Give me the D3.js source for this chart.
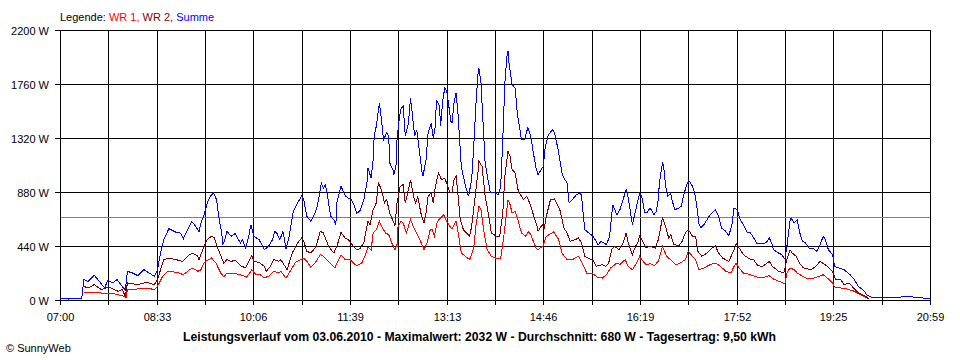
<!DOCTYPE html>
<html><head><meta charset="utf-8">
<script src="https://cdn.jsdelivr.net/npm/d3@7/dist/d3.min.js"></script>
<style>
body{margin:0;background:#fff}
svg{display:block}
text{font-family:"Liberation Sans",Arial,sans-serif;font-size:11px;fill:#000}
</style>
</head><body>
<svg id="chart" width="960" height="360"></svg>
<script>
// ---------- data ----------
const startMinute = 420;   // 07:00
const endMinute = 1259;    // 20:59
const xTickLabels = ["07:00","08:33","10:06","11:39","13:13","14:46","16:19","17:52","19:25","20:59"];
const yTickValues = [0, 440, 880, 1320, 1760, 2200];
const yTickLabels = ["0 W","440 W","880 W","1320 W","1760 W","2200 W"];
const averageW = 680;
const legendLabel = "Legende:";
const seriesNames = ["WR 1", "WR 2", "Summe"];
const titleText = "Leistungsverlauf vom 03.06.2010 - Maximalwert: 2032 W - Durchschnitt: 680 W - Tagesertrag: 9,50 kWh";
const footerText = "\u00A9 SunnyWeb";

// minutes after 07:00 and power in W
const sumT = [0,8,15,21,23,27,33,38,43,46,51,55,60,63,65,70,75,81,86,91,94,97,100,105,112,116,119,123,127,131,134,136,139,142,145,148,151,153,156,157,159,161,165,169,174,176,179,182,184,187,192,197,201,205,207,209,212,215,218,221,225,229,233,235,238,242,246,248,250,252,254,256,258,261,264,266,267,271,275,278,281,284,286,289,293,296,297,300,302,303,305,308,310,312,315,317,318,321,322,324,325,327,329,331,333,336,338,340,342,344,346,349,350,353,355,358,360,362,363,366,367,369,371,373,375,377,378,380,382,384,387,391,394,397,399,401,403,404,406,408,410,415,420,423,425,427,429,431,432,433,436,439,441,444,445,448,451,452,454,456,459,461,465,466,468,471,475,477,481,484,486,489,491,494,498,502,503,506,510,514,519,522,527,530,533,537,540,543,546,548,552,556,559,561,564,566,569,573,575,577,578,581,582,584,586,589,590,593,597,599,602,605,607,610,612,614,616,618,621,624,627,632,635,638,642,645,648,650,653,656,659,663,666,669,672,679,682,684,687,688,693,696,699,701,704,705,708,711,713,716,719,722,727,730,733,736,738,741,745,747,751,756,762,766,770,775,778,782,788,801,807,814,823,833,839];
const sumW = [10,8,12,15,166,152,201,152,98,160,139,166,111,79,234,220,198,247,220,193,247,383,492,581,551,546,500,573,641,600,554,627,695,790,845,872,818,682,546,451,492,560,519,541,464,492,424,519,614,519,492,410,437,492,560,546,492,560,416,519,722,790,845,818,682,641,709,763,845,953,913,940,845,682,655,614,790,926,850,831,818,763,709,722,818,953,1076,994,1143,1334,1415,1605,1469,1306,1361,1334,1116,1062,1021,1089,1306,1469,1564,1578,1334,1442,1646,1497,1334,1388,1252,1048,1008,1143,1361,1442,1320,1415,1632,1578,1415,1619,1727,1700,1578,1456,1442,1605,1687,1497,1089,926,845,980,1252,1578,1836,1890,1768,1442,1116,872,872,858,926,1306,1768,1985,2032,1931,1755,1727,1524,1361,1306,1306,1401,1388,1334,1225,1076,1021,1076,1089,1252,1347,1388,1361,1198,1035,994,953,790,818,858,872,845,573,546,519,451,478,451,519,777,695,736,818,899,831,614,763,872,845,709,709,750,695,722,818,953,1116,1103,926,845,872,818,736,750,763,872,953,967,926,872,777,627,587,614,655,695,736,682,587,560,524,614,750,736,655,614,546,546,505,464,456,478,505,451,410,383,369,334,437,641,668,627,655,560,478,464,424,416,397,451,519,492,410,369,274,261,247,206,166,111,79,43,24,22,22,16,30,24,16,14];

const wr2T = [23,27,33,40,44,49,56,60,63,65,75,84,91,94,97,100,105,112,118,125,128,133,134,139,142,146,149,152,156,158,161,165,169,174,179,182,185,187,192,197,199,203,206,211,213,219,224,229,233,235,238,242,247,251,254,259,264,267,271,275,278,283,286,289,293,295,297,299,302,305,307,310,313,315,318,322,323,325,328,331,333,336,338,341,343,345,348,351,353,355,358,360,362,365,368,371,374,376,378,380,382,384,386,389,392,395,397,400,403,404,407,410,413,416,421,424,427,429,432,434,436,439,442,447,450,453,457,460,461,465,467,469,473,477,482,486,489,492,497,500,503,506,511,514,517,523,526,529,532,535,539,543,546,548,552,555,557,559,561,565,569,574,577,581,584,587,589,592,597,600,603,606,610,613,615,619,624,629,632,635,639,645,650,652,655,659,666,669,672,677,680,684,687,693,698,701,704,706,710,713,717,724,729,733,740,745,748,753,756,761,766,770,777,780];
const wr2W = [111,98,125,84,98,98,71,84,30,139,125,144,125,166,247,329,342,329,315,369,383,356,329,437,492,519,505,424,342,301,329,315,323,280,261,315,361,315,307,274,234,274,329,315,329,247,383,464,505,478,397,383,437,560,546,437,383,437,551,505,492,437,410,416,464,560,641,614,736,790,953,899,790,818,709,627,600,790,926,940,790,899,980,845,790,845,709,627,709,845,872,790,926,1035,980,994,926,872,872,980,1008,845,655,573,546,519,600,818,1035,1130,1089,845,709,546,519,519,709,1008,1211,1171,1062,1035,885,818,845,790,682,600,560,614,587,682,818,823,736,587,546,478,492,505,464,356,334,323,274,288,274,296,410,437,410,464,546,464,369,437,464,519,492,424,437,424,492,668,600,505,532,451,443,478,546,573,519,519,397,356,383,424,443,383,342,315,410,459,424,369,329,329,288,269,288,315,274,234,220,329,410,383,356,301,261,247,274,315,274,234,166,166,125,139,90,57,30,8];

const wr1T = [23,33,43,49,56,62,64,65,75,84,91,94,99,104,113,119,125,128,133,136,139,146,150,155,158,161,165,171,177,180,183,185,189,193,197,202,206,211,213,218,222,227,235,238,242,246,251,254,259,265,268,271,275,280,283,286,291,294,297,300,302,305,308,310,314,317,320,323,325,326,329,331,334,338,342,344,347,351,354,357,359,361,364,370,372,376,378,382,384,387,391,395,399,401,404,406,409,412,416,420,425,428,432,434,436,439,442,445,449,452,454,459,461,466,469,476,481,484,489,494,500,505,508,513,518,523,527,531,537,540,545,548,552,557,559,561,565,569,573,577,581,585,587,589,594,598,603,606,610,613,616,621,627,632,637,642,647,650,652,655,659,666,672,680,684,688,695,699,701,704,708,711,716,721,725,732,736,740,745,747,753,759,766,772,777];
const wr1W = [57,65,52,57,43,30,24,84,90,98,84,111,193,234,225,206,247,261,234,247,307,342,307,220,187,220,220,212,198,187,220,247,206,206,179,198,234,220,234,179,234,307,342,315,266,301,369,356,315,261,315,369,329,329,301,280,301,356,432,405,546,573,641,600,546,532,464,410,451,600,641,627,546,655,573,546,492,410,464,573,573,519,641,695,655,600,579,641,546,383,356,329,424,600,763,736,546,410,356,342,342,519,818,777,709,722,641,546,519,560,532,424,410,443,519,554,492,383,329,329,356,274,220,220,187,179,206,261,301,288,329,274,247,315,356,329,288,296,280,315,437,356,342,329,288,301,329,396,356,329,247,261,288,301,274,234,220,274,301,261,220,206,187,187,198,171,147,133,220,261,247,220,193,174,174,193,206,179,139,106,98,90,71,43,24];

// ---------- chart ----------
const svg = d3.select("#chart");
const plotLeft = 60, plotRight = 930, plotTop = 30, plotBottom = 300;

const x = d3.scaleLinear().domain([startMinute, endMinute]).range([plotLeft, plotRight]);
const y = d3.scaleLinear().domain([0, 2200]).range([plotBottom, plotTop]);
const px = v => Math.round(v) + 0.5;

const gridCount = 18;
const gridMinutes = d3.range(gridCount + 1).map(i => startMinute + i * (endMinute - startMinute) / gridCount);

const g = svg.append("g").attr("shape-rendering", "crispEdges");

yTickValues.forEach((v, i) => {
  g.append("line").attr("x1", plotLeft - 5).attr("x2", plotRight + 0.5)
    .attr("y1", px(y(v))).attr("y2", px(y(v))).attr("stroke", "#000");
  svg.append("text").attr("x", plotLeft - 11).attr("y", px(y(v)) + 4)
    .attr("text-anchor", "end").text(yTickLabels[i]);
});

gridMinutes.forEach((m, i) => {
  g.append("line").attr("x1", px(x(m))).attr("x2", px(x(m)))
    .attr("y1", plotTop + 0.5).attr("y2", plotBottom + 5).attr("stroke", "#000");
  if (i % 2 === 0) {
    svg.append("text").attr("x", px(x(m))).attr("y", plotBottom + 21)
      .attr("text-anchor", "middle").text(xTickLabels[i / 2]);
  }
});

g.append("line").attr("x1", plotLeft + 1).attr("x2", plotRight)
  .attr("y1", px(y(averageW))).attr("y2", px(y(averageW)))
  .attr("stroke", "#808080");

const series = [
  {t: wr1T, w: wr1W, color: "#ff0000"},
  {t: wr2T, w: wr2W, color: "#800000"},
  {t: sumT, w: sumW, color: "#0000ff"}
];
const line = d3.line().x(d => x(startMinute + d[0])).y(d => y(d[1]));
series.forEach(s => {
  const pts = d3.zip(s.t, s.w);
  svg.append("path").datum(pts).attr("d", line)
    .attr("fill", "none").attr("stroke", s.color).attr("stroke-width", 1)
    .attr("shape-rendering", "crispEdges");
});

const legendColors = ["#ff0000", "#800000", "#0000ff"];
const lg = svg.append("text").attr("x", 60).attr("y", 21);
lg.append("tspan").text(legendLabel + " ");
seriesNames.forEach((n, i) => {
  lg.append("tspan").style("fill", legendColors[i])
    .text(n + (i < seriesNames.length - 1 ? ", " : ""));
});

svg.append("text").attr("x", 183).attr("y", 341)
  .attr("textLength", 593).attr("lengthAdjust", "spacingAndGlyphs")
  .style("font-weight", "bold").style("font-size", "12px").text(titleText);

svg.append("text").attr("x", 6).attr("y", 352).style("font-size", "11px").text(footerText);
</script>
</body></html>
